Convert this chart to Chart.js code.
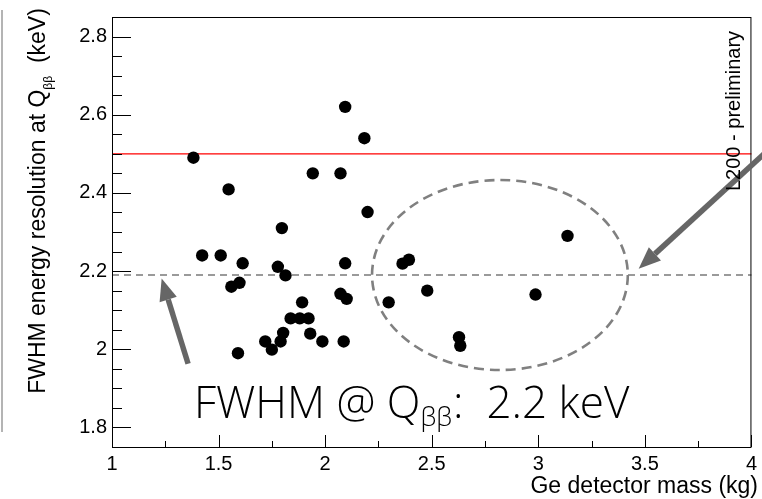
<!DOCTYPE html>
<html>
<head>
<meta charset="utf-8">
<script src="https://cdn.jsdelivr.net/npm/chart.js@4.4.1/dist/chart.umd.min.js"></script>
<style>
  html, body { margin: 0; padding: 0; background: #fff; }
  #wrap { width: 762px; height: 499px; }
</style>
</head>
<body>
<div id="wrap"><canvas id="fwhmChart" width="762" height="499"></canvas></div>
<script>
// ------------------- Data: detector mass vs FWHM at Qbb -------------------
const massKg = [
  2.094, 2.184, 1.382, 1.942, 2.072, 1.547, 2.199, 1.797, 1.423, 1.510,
  1.613, 1.778, 1.814, 2.094, 2.363, 2.393, 3.137, 1.560, 1.598, 2.072,
  2.101, 1.892, 2.298, 2.479, 2.987, 1.838, 1.881, 1.922, 1.803, 1.791,
  1.719, 1.750, 1.930, 1.987, 2.087, 1.591, 2.628, 2.634
];
const fwhmKeV = [
  2.620, 2.540, 2.490, 2.450, 2.450, 2.409, 2.351, 2.310, 2.240, 2.240,
  2.220, 2.211, 2.189, 2.220, 2.219, 2.229, 2.290, 2.160, 2.170, 2.142,
  2.129, 2.120, 2.120, 2.150, 2.140, 2.079, 2.079, 2.079, 2.042, 2.020,
  2.020, 1.999, 2.040, 2.020, 2.020, 1.990, 2.031, 2.009
];

// ------------------- Axes -------------------
const xRange = [1, 4];
const yRange = [1.75, 2.85];
const xTicks = [1, 1.5, 2, 2.5, 3, 3.5, 4];
const yTicks = [1.8, 2.0, 2.2, 2.4, 2.6, 2.8];
const xMinorStep = 0.25;
const yMinorStep = 0.05;

// ------------------- Reference levels and highlight -------------------
const specLevel = 2.5;      // red line
const meanLevel = 2.19;     // dashed line
const ellipseCenter = [2.82, 2.19];
const ellipseRadius = [0.60, 0.243];
// arrows: [tailX, tailY, tipX, tipY] in axis units
const arrows = [
  [1.357, 1.963, 1.233, 2.181],
  [4.13, 2.535, 3.471, 2.206]
];

const labelFont = '"Liberation Sans", Arial, Helvetica, sans-serif';

// ------------------- Plugin: ROOT-style frame, ticks and overlays -------------------
const rootFrame = {
  id: 'rootFrame',
  beforeDatasetsDraw(chart) {
    const { ctx, chartArea: a, scales: { x, y } } = chart;
    ctx.save();
    // red level
    ctx.strokeStyle = '#ff0000';
    ctx.lineWidth = 1.3;
    ctx.beginPath();
    ctx.moveTo(a.left, y.getPixelForValue(specLevel));
    ctx.lineTo(a.right, y.getPixelForValue(specLevel));
    ctx.stroke();
    // dashed mean
    ctx.strokeStyle = '#9a9a9a';
    ctx.lineWidth = 1.8;
    ctx.setLineDash([7, 5]);
    ctx.beginPath();
    ctx.moveTo(a.left, y.getPixelForValue(meanLevel));
    ctx.lineTo(a.right, y.getPixelForValue(meanLevel));
    ctx.stroke();
    // dashed ellipse
    const cx = x.getPixelForValue(ellipseCenter[0]);
    const cy = y.getPixelForValue(ellipseCenter[1]);
    const rx = x.getPixelForValue(ellipseCenter[0] + ellipseRadius[0]) - cx;
    const ry = cy - y.getPixelForValue(ellipseCenter[1] + ellipseRadius[1]);
    ctx.strokeStyle = '#808080';
    ctx.lineWidth = 2.6;
    ctx.setLineDash([10, 6]);
    ctx.beginPath();
    ctx.ellipse(cx, cy, rx, ry, 0, 0, Math.PI * 2);
    ctx.stroke();
    ctx.restore();
  },
  afterDatasetsDraw(chart) {
    const { ctx, chartArea: a, scales: { x, y } } = chart;
    ctx.save();

    // frame
    ctx.strokeStyle = '#000';
    ctx.lineWidth = 1;
    ctx.strokeRect(a.left + 0.5, a.top + 0.5, a.right - a.left - 1, a.bottom - a.top);

    // y ticks (inside, left)
    for (let v = yRange[0]; v <= yRange[1] + 1e-9; v += yMinorStep) {
      const val = Math.round(v * 100) / 100;
      if (val < yRange[0] + 1e-6 || val > yRange[1] - 1e-6) continue;
      const major = yTicks.some(t => Math.abs(t - val) < 1e-6);
      const py = Math.round(y.getPixelForValue(val)) + 0.5;
      ctx.beginPath();
      ctx.moveTo(a.left, py);
      ctx.lineTo(a.left + (major ? 19 : 10), py);
      ctx.stroke();
    }
    // x ticks (inside, bottom)
    for (let v = xRange[0]; v <= xRange[1] + 1e-9; v += xMinorStep) {
      const major = xTicks.some(t => Math.abs(t - v) < 1e-6);
      const px = Math.round(x.getPixelForValue(v)) + 0.5;
      ctx.beginPath();
      ctx.moveTo(px, a.bottom);
      ctx.lineTo(px, a.bottom - (major ? 12 : 6));
      ctx.stroke();
    }

    // arrows
    ctx.strokeStyle = '#666';
    ctx.fillStyle = '#666';
    ctx.lineWidth = 5.5;
    arrows.forEach(([x0, y0, x1, y1]) => {
      const p0 = [x.getPixelForValue(x0), y.getPixelForValue(y0)];
      const p1 = [x.getPixelForValue(x1), y.getPixelForValue(y1)];
      const ang = Math.atan2(p1[1] - p0[1], p1[0] - p0[0]);
      const head = 22, half = 9;
      const bx = p1[0] - head * Math.cos(ang), by = p1[1] - head * Math.sin(ang);
      ctx.beginPath();
      ctx.moveTo(p0[0], p0[1]);
      ctx.lineTo(bx, by);
      ctx.stroke();
      ctx.beginPath();
      ctx.moveTo(p1[0], p1[1]);
      ctx.lineTo(bx + half * Math.sin(ang), by - half * Math.cos(ang));
      ctx.lineTo(bx - half * Math.sin(ang), by + half * Math.cos(ang));
      ctx.closePath();
      ctx.fill();
    });

    // preliminary tag
    ctx.fillStyle = '#000';
    ctx.save();
    ctx.translate(740, 191);
    ctx.rotate(-Math.PI / 2);
    ctx.font = '20px ' + labelFont;
    ctx.textAlign = 'left';
    ctx.textBaseline = 'alphabetic';
    ctx.fillText('L200 - preliminary', 0, 0);
    ctx.restore();

    // y axis title with subscript
    ctx.save();
    ctx.translate(45, 201);
    ctx.rotate(-Math.PI / 2);
    const mainF = '23px ' + labelFont, subF = '12px ' + labelFont;
    const partA = 'FWHM energy resolution at Q', partB = '\u03b2\u03b2', partC = '  (keV)';
    ctx.font = mainF; const wA = ctx.measureText(partA).width, wC = ctx.measureText(partC).width;
    ctx.font = subF; const wB = ctx.measureText(partB).width;
    let sx = -(wA + wB + wC) / 2;
    ctx.textBaseline = 'alphabetic';
    ctx.font = mainF; ctx.fillText(partA, sx, 0); sx += wA;
    ctx.font = subF; ctx.fillText(partB, sx, 7); sx += wB;
    ctx.font = mainF; ctx.fillText(partC, sx, 0);
    ctx.restore();

    // x axis title
    ctx.font = '23px ' + labelFont;
    ctx.textAlign = 'right';
    ctx.textBaseline = 'alphabetic';
    ctx.fillText('Ge detector mass (kg)', 758, 493);

    // headline
    ctx.textAlign = 'left';
    const bigF = '300 44px "Open Sans", sans-serif', bigSub = '300 26px "Open Sans", sans-serif';
    let hx = 194;
    ctx.font = bigF; ctx.fillText('FWHM @ Q', hx, 418); hx += ctx.measureText('FWHM @ Q').width;
    ctx.font = bigSub; ctx.fillText('\u03b2\u03b2', hx, 426); hx += ctx.measureText('\u03b2\u03b2').width;
    ctx.font = bigF; ctx.fillText(':  2.2 keV', hx + 1, 418);

    ctx.restore();
  },
  afterDraw(chart) {
    // thin grey edge on the far left
    const ctx = chart.ctx;
    ctx.save();
    ctx.strokeStyle = '#b4b4b4';
    ctx.lineWidth = 2;
    ctx.beginPath();
    ctx.moveTo(2, 10);
    ctx.lineTo(2, 432);
    ctx.stroke();
    ctx.restore();
  }
};

const points = massKg.map((m, i) => ({ x: m, y: fwhmKeV[i] }));

new Chart(document.getElementById('fwhmChart').getContext('2d'), {
  type: 'scatter',
  data: {
    datasets: [{
      data: points,
      backgroundColor: '#000',
      borderWidth: 0,
      pointRadius: 6.2,
      pointHoverRadius: 6.2
    }]
  },
  options: {
    responsive: false,
    animation: false,
    devicePixelRatio: 1,
    layout: { padding: { left: 0, right: 9, top: 12, bottom: 0 } },
    plugins: { legend: { display: false }, tooltip: { enabled: false } },
    scales: {
      x: {
        type: 'linear',
        min: xRange[0],
        max: xRange[1],
        afterBuildTicks: s => { s.ticks = xTicks.map(v => ({ value: v })); },
        afterFit: s => { s.height = 52; },
        grid: { display: false, drawTicks: false },
        border: { display: false },
        ticks: {
          color: '#000',
          padding: 5,
          maxRotation: 0,
          font: { family: labelFont, size: 20 },
          callback: v => String(+Number(v).toFixed(1))
        }
      },
      y: {
        type: 'linear',
        min: yRange[0],
        max: yRange[1],
        afterBuildTicks: s => { s.ticks = yTicks.map(v => ({ value: v })); },
        afterFit: s => { s.width = 112; },
        grid: { display: false, drawTicks: false },
        border: { display: false },
        ticks: {
          color: '#000',
          padding: 5,
          font: { family: labelFont, size: 20 },
          callback: v => String(+Number(v).toFixed(1))
        }
      }
    }
  },
  plugins: [rootFrame]
});
</script>
</body>
</html>
